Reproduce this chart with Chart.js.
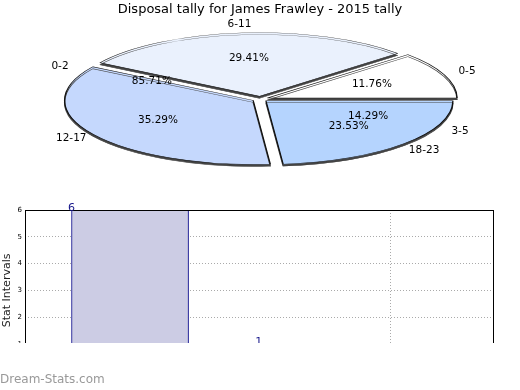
<!DOCTYPE html>
<html>
<head>
<meta charset="utf-8">
<script src="https://cdn.jsdelivr.net/npm/chart.js@4"></script>
<style>
body { margin: 0; width: 520px; height: 390px; background: #fff; position: relative; overflow: hidden; font-family: "DejaVu Sans", sans-serif; }
#pieBox { position: absolute; left: 0; top: 0; width: 520px; height: 390px; }
#barBox { position: absolute; left: 0; top: 195px; width: 520px; height: 148px; overflow: hidden; }
#barInner { position: relative; width: 520px; height: 183px; }
#mark { position: absolute; left: 0; top: 372px; font-size: 12px; color: #999; }
</style>
</head>
<body>
<div id="pieBox"><canvas id="grafikPie"></canvas></div>
<div id="barBox"><div id="barInner"><canvas id="grafikBar"></canvas></div></div>
<div id="mark">Dream-Stats.com</div>
<script>
// -------- DATA --------
const judul = "Disposal tally for James Frawley - 2015 tally";

// outer pie, clockwise from the right
const pieLabels = ["18-23", "12-17", "6-11", "0-5"];
const pieCounts = [4, 6, 5, 2];
const pieColors = ["#b5d4fe", "#c5d8fd", "#eaf1fd", "#ffffff"];

// second pie sitting underneath, only its labels show
const hiddenLabels = ["3-5", "0-2"];
const hiddenCounts = [1, 6];

// bars
const barValues = [6, 1];
const barPos = [0, 0.72];
const yLabel = "Stat Intervals";

const TILT = 0.34;
const PIE_CY = 99;

function persen(v, arr) {
    const tot = arr.reduce((a, b) => a + b, 0);
    return (v / tot * 100).toFixed(2) + "%";
}

// -------- PIE --------
const pieLook = {
    id: "pieLook",
    beforeDatasetsDraw(chart) {
        const a = chart.getDatasetMeta(0).data[0];
        const ctx = chart.ctx;
        ctx.save();
        ctx.translate(a.x, PIE_CY);
        ctx.scale(1, TILT);
        ctx.translate(-a.x, -a.y);
        ctx.shadowColor = "#444";
        ctx.shadowOffsetY = 2;
    },
    afterDatasetsDraw(chart) {
        const ctx = chart.ctx;
        ctx.restore();
        const arcs = chart.getDatasetMeta(0).data;
        const cx = arcs[0].x;
        ctx.save();
        ctx.fillStyle = "#000";
        ctx.textAlign = "center";
        ctx.textBaseline = "middle";
        ctx.font = "10.5px 'DejaVu Sans'";
        const tulis = (txt, ang, r) => {
            ctx.fillText(txt, cx + Math.cos(ang) * r, PIE_CY + Math.sin(ang) * r * TILT);
        };
        arcs.forEach((a, i) => {
            const mid = (a.startAngle + a.endAngle) / 2;
            tulis(persen(pieCounts[i], pieCounts), mid, 120);
            tulis(pieLabels[i], mid, 222);
        });
        // labels of the pie underneath
        const tot = hiddenCounts.reduce((a, b) => a + b, 0);
        let start = 0;
        hiddenCounts.forEach((v, i) => {
            const sweep = v / tot * Math.PI * 2;
            const mid = start + sweep / 2;
            tulis(persen(v, hiddenCounts), mid, 120);
            tulis(hiddenLabels[i], mid, 222);
            start += sweep;
        });
        ctx.restore();
    }
};

new Chart(grafikPie, {
    type: "pie",
    data: {
        labels: pieLabels,
        datasets: [{
            data: pieCounts,
            backgroundColor: pieColors,
            borderColor: "#111",
            borderWidth: 1.3,
            offset: 32,
            radius: 187,
            clip: false
        }]
    },
    options: {
        responsive: true,
        maintainAspectRatio: false,
        animation: false,
        rotation: 90,
        plugins: {
            legend: { display: false },
            tooltip: { enabled: false },
            title: {
                display: true,
                text: judul,
                color: "#000",
                font: { family: "DejaVu Sans", size: 13, weight: "normal" },
                padding: { top: 2, bottom: 4 }
            }
        }
    },
    plugins: [pieLook]
});

// -------- BAR --------
const barLook = {
    id: "barLook",
    afterDatasetsDraw(chart) {
        const ctx = chart.ctx;
        const area = chart.chartArea;
        ctx.save();
        ctx.strokeStyle = "#000";
        ctx.lineWidth = 1;
        ctx.strokeRect(area.left + 0.5, area.top + 0.5, area.right - area.left, area.bottom - area.top);
        ctx.fillStyle = "#1a1a8c";
        ctx.font = "11px 'DejaVu Sans'";
        ctx.textAlign = "center";
        ctx.textBaseline = "alphabetic";
        chart.getDatasetMeta(0).data.forEach((b, i) => {
            ctx.fillText(String(barValues[i]), b.x - b.width / 2, b.y + 1);
        });
        ctx.restore();
    }
};

new Chart(grafikBar, {
    type: "bar",
    data: {
        datasets: [{
            data: barValues.map((v, i) => ({ x: barPos[i], y: v })),
            backgroundColor: "#cccce4",
            borderColor: "#000088",
            borderWidth: { top: 1, left: 1, right: 1, bottom: 0 },
            borderSkipped: "start",
            barThickness: 117
        }]
    },
    options: {
        responsive: true,
        maintainAspectRatio: false,
        animation: false,
        layout: { padding: { top: 15, right: 27, left: 0, bottom: 0 } },
        plugins: { legend: { display: false }, tooltip: { enabled: false } },
        scales: {
            x: {
                type: "linear",
                min: -0.404,
                max: 1.396,
                offset: false,
                grid: { color: "#aaa", offset: false, drawTicks: false },
                border: { display: false, dash: [1, 2] },
                ticks: { display: false, stepSize: 1, includeBounds: false },
                afterFit: s => { s.height = 0; }
            },
            y: {
                min: 0,
                max: 6,
                grid: { color: "#aaa", drawTicks: false },
                border: { display: false, dash: [1, 2] },
                ticks: { stepSize: 1, color: "#000", padding: 3, font: { family: "DejaVu Sans", size: 7 } },
                title: { display: true, text: yLabel, color: "#222", font: { family: "DejaVu Sans", size: 11 }, padding: 1 },
                afterFit: s => { s.width = 25; }
            }
        }
    },
    plugins: [barLook]
});
</script>
</body>
</html>
